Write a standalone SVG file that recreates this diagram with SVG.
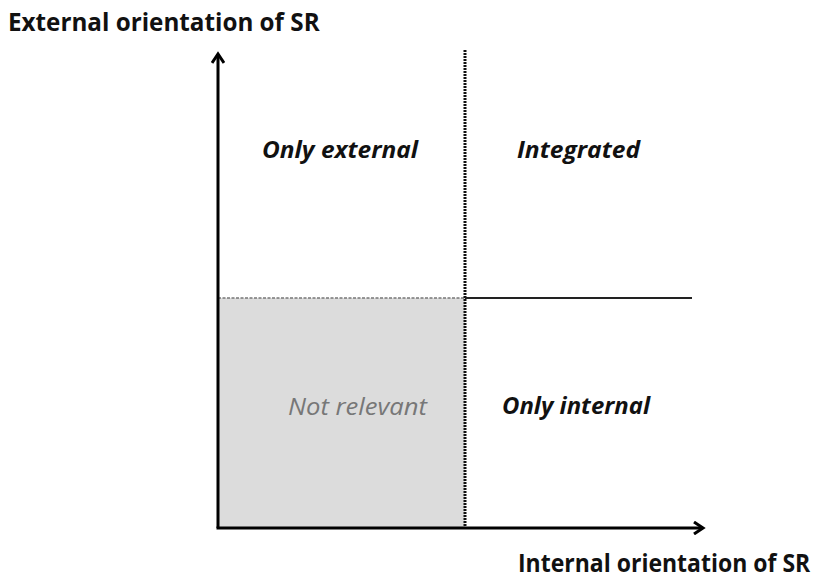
<svg xmlns="http://www.w3.org/2000/svg" width="827" height="581" viewBox="0 0 827 581">
  <style>
    .axis-title { font-family: "Open Sans", "Liberation Sans", sans-serif; font-weight: bold; font-size: 25px; fill: #111; }
    .quad { font-family: "Open Sans", "Liberation Sans", sans-serif; font-weight: bold; font-style: italic; font-size: 24px; fill: #111; }
    .muted { font-family: "Open Sans", "Liberation Sans", sans-serif; font-style: italic; font-size: 24px; fill: #777; }
    .axis { stroke: #000; stroke-width: 3; fill: none; }
    .divider { stroke: #111; stroke-width: 3; stroke-dasharray: 2 1; fill: none; }
    .edge { stroke: #777; stroke-width: 1.5; stroke-dasharray: 3 1.5; fill: none; }
  </style>
  <defs>
    <marker id="open-arrow" viewBox="0 0 14 14" refX="11" refY="7" markerWidth="14" markerHeight="14" markerUnits="userSpaceOnUse" orient="auto">
      <path d="M2,1 L11,7 L2,13" fill="none" stroke="#000" stroke-width="3"/>
    </marker>
  </defs>

  <!-- low/low quadrant -->
  <g id="not-relevant">
    <rect x="218" y="298" width="247" height="230" fill="#dcdcdc"/>
    <line class="edge" x1="218" y1="298" x2="465" y2="298"/>
    <text class="muted" x="288" y="415" textLength="139" lengthAdjust="spacingAndGlyphs">Not relevant</text>
  </g>

  <g id="only-external">
    <text class="quad" x="262" y="158" textLength="156" lengthAdjust="spacingAndGlyphs">Only external</text>
  </g>
  <g id="integrated">
    <text class="quad" x="517" y="158" textLength="123" lengthAdjust="spacingAndGlyphs">Integrated</text>
  </g>
  <g id="only-internal">
    <text class="quad" x="502" y="414" textLength="148" lengthAdjust="spacingAndGlyphs">Only internal</text>
  </g>

  <!-- axes and quadrant dividers -->
  <g id="connectors">
    <line class="divider" x1="465" y1="50" x2="465" y2="528"/>
    <line x1="465" y1="298" x2="692" y2="298" stroke="#222" stroke-width="2"/>
    <line class="axis" x1="218" y1="528" x2="218" y2="54" marker-end="url(#open-arrow)"/>
    <line class="axis" x1="216.5" y1="528" x2="703" y2="528" marker-end="url(#open-arrow)"/>
  </g>

  <!-- axis titles, narrowed horizontally to a condensed bold look -->
  <g id="y-axis-title">
    <text class="axis-title" transform="translate(8,31) scale(0.97,1)">External orientation of SR</text>
  </g>
  <g id="x-axis-title">
    <text class="axis-title" transform="translate(518,572) scale(0.92,1)">Internal orientation of SR</text>
  </g>
</svg>
